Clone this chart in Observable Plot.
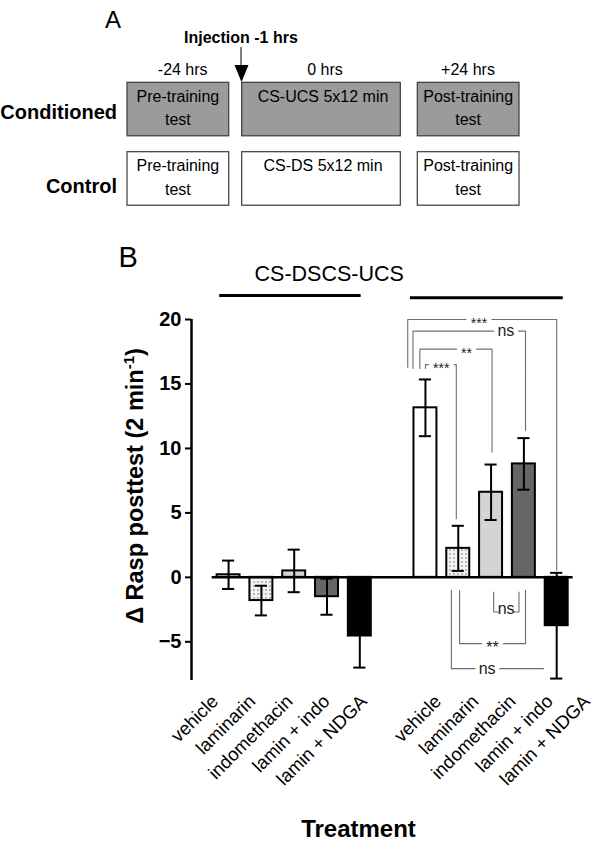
<!DOCTYPE html>
<html><head><meta charset="utf-8">
<script src="https://cdn.jsdelivr.net/npm/d3@7"></script>
<script src="https://cdn.jsdelivr.net/npm/@observablehq/plot@0.6"></script>
<style>
body{margin:0;background:#fff;}
#wrap{width:600px;height:844px;position:relative;background:#fff;}
svg{display:block;}
</style></head><body><div id="wrap"></div>
<script>
const FONT = '"Liberation Sans", Arial, Helvetica, sans-serif';

// ---------- Panel A (protocol) ----------
const phaseLabels = ["-24 hrs", "0 hrs", "+24 hrs"];
const rowLabels = ["Conditioned", "Control"];
const conditionedBoxes = [["Pre-training", "test"], ["CS-UCS 5x12 min"], ["Post-training", "test"]];
const controlBoxes = [["Pre-training", "test"], ["CS-DS 5x12 min"], ["Post-training", "test"]];
const injectionLabel = "Injection -1 hrs";

// ---------- Panel B (data) ----------
const treatments = ["vehicle", "laminarin", "indomethacin", "lamin + indo", "lamin + NDGA"];
const groups = ["CS-DS", "CS-UCS"];
const csDsMean = [0.2, -1.8, 0.5, -1.5, -4.55];
const csDsSem = [1.1, 1.15, 1.65, 1.4, 2.45];
const csUcsMean = [13.15, 2.25, 6.6, 8.8, -3.75];
const csUcsSem = [2.2, 1.75, 2.15, 2.0, 4.1];
const yTicks = [-5, 0, 5, 10, 15, 20];
const sigTopLabels = ["***", "ns", "**", "***"];
const sigBottomLabels = ["ns", "**", "ns"];

// ---------- Panel A drawing ----------
const wrap = d3.select("#wrap");
const A = wrap.append("svg").attr("width", 600).attr("height", 220)
  .attr("font-family", FONT).style("background", "#fff");
A.append("text").attr("x", 105).attr("y", 28).attr("font-size", 24).text("A");
A.append("text").attr("x", 184).attr("y", 43).attr("font-size", 16).attr("font-weight", "bold").text(injectionLabel);
A.append("line").attr("x1", 241).attr("x2", 241).attr("y1", 47).attr("y2", 66).attr("stroke", "#000").attr("stroke-width", 1);
A.append("path").attr("d", "M234.5,65 L248.5,65 L241.5,82 Z").attr("fill", "#000");
const colX = [[127, 228.7], [241.7, 400.3], [417.3, 519]];
const phaseCx = [182.7, 325, 468];
const rowTop = [82.3, 151.7];
const rowH = 53.5;
const rowBase = [119, 193];
phaseLabels.forEach((p, i) => A.append("text").attr("x", phaseCx[i]).attr("y", 75)
  .attr("text-anchor", "middle").attr("font-size", 16).text(p));
[conditionedBoxes, controlBoxes].forEach((boxes, r) => {
  A.append("text").attr("x", 117).attr("y", rowBase[r]).attr("text-anchor", "end")
    .attr("font-size", 20).attr("font-weight", "bold").text(rowLabels[r]);
  boxes.forEach((lines, c) => {
    A.append("rect").attr("x", colX[c][0]).attr("y", rowTop[r])
      .attr("width", colX[c][1] - colX[c][0]).attr("height", rowH)
      .attr("fill", r === 0 ? "#9b9b9b" : "#fff").attr("stroke", "#3a3a3a").attr("stroke-width", 1.2);
    lines.forEach((ln, k) => A.append("text")
      .attr("x", (colX[c][0] + colX[c][1]) / 2 + (c === 1 ? 2 : 0))
      .attr("y", rowTop[r] + 19.4 + k * 23.6)
      .attr("text-anchor", "middle").attr("font-size", 16).text(ln));
  });
});

// ---------- Panel B drawing ----------
const fills = ["#ffffff", "url(#dots)", "#d4d4d4", "#666666", "#000000"];
const bars = [];
groups.forEach((g, gi) => treatments.forEach((t, ti) => bars.push({
  group: g, treatment: t, slot: gi * 6 + ti,
  mean: (gi ? csUcsMean : csDsMean)[ti],
  sem: (gi ? csUcsSem : csDsSem)[ti],
  fill: fills[ti]
})));

const half = 0.35, capHalf = 0.185;
const xMin = -1.13;

// significance brackets (vehicle CS-UCS = slot 6)
const topBr = [
  {label: sigTopLabels[0], pts: [[5.46, 16.3], [5.46, 20.0], [10, 20.0], [10, 0.55]], tx: 7.63, ty: 20.0, fs: 14},
  {label: sigTopLabels[1], pts: [[5.62, 16.2], [5.62, 19.1], [9.05, 19.1], [9.05, 11.4]], tx: 8.45, ty: 19.1, fs: 16},
  {label: sigTopLabels[2], pts: [[5.83, 16.2], [5.83, 17.7], [8.03, 17.7], [8.03, 9.7]], tx: 7.25, ty: 17.7, fs: 14},
  {label: sigTopLabels[3], pts: [[6.0, 16.2], [6.0, 16.5], [6.94, 16.5], [6.94, 4.55]], tx: 6.48, ty: 16.5, fs: 14}
];
const botBr = [
  {label: sigBottomLabels[0], pts: [[8.23, -2.69], [8.08, -2.69], [8.08, -1.14]], pts2: [[8.69, -2.69], [8.85, -2.69], [8.85, -1.14]], tx: 8.46, ty: -2.45, fs: 16, halo: false},
  {label: sigBottomLabels[1], pts: [[7.04, -1.0], [7.04, -5.14], [9.05, -5.14], [9.05, -1.0]], tx: 8.04, ty: -5.14, fs: 16, halo: true, bold: true},
  {label: sigBottomLabels[2], pts: [[6.79, -1.0], [6.79, -7.08], [9.6, -7.08]], tx: 7.88, ty: -7.08, fs: 16, halo: true}
];
const brPts = [];
[...topBr, ...botBr].forEach((b, i) => {
  b.pts.forEach(([x, y]) => brPts.push({id: "a" + i, x, y}));
  if (b.pts2) b.pts2.forEach(([x, y]) => brPts.push({id: "b" + i, x, y}));
});
const starTexts = [...topBr, ...botBr].filter(b => b.label.includes("*"));
const nsTexts = [...topBr, ...botBr].filter(b => !b.label.includes("*"));

const groupLines = [
  {group: groups[0], from: -0.27, to: 4.04, level: 21.86},
  {group: groups[1], from: 5.54, to: 10.2, level: 21.68}
];

const chart = Plot.plot({
  width: 600, height: 624,
  marginTop: 99, marginBottom: 164, marginLeft: 191, marginRight: 27.4,
  x: {domain: [xMin, 10.5], axis: null},
  y: {domain: [-8, 20], axis: null},
  color: {type: "identity"},
  style: {fontFamily: FONT, color: "#000", background: "#fff", overflow: "visible"},
  marks: [
    Plot.rectY(bars, {x1: d => d.slot - half, x2: d => d.slot + half, y1: 0, y2: "mean", fill: "fill", stroke: "#000", strokeWidth: 2}),
    Plot.ruleY([0], {x1: -0.5, x2: 10.5, strokeWidth: 2.5}),
    Plot.ruleX(bars, {x: "slot", y1: d => d.mean - d.sem, y2: d => d.mean + d.sem, strokeWidth: 2}),
    Plot.ruleY(bars, {y: d => d.mean + d.sem, x1: d => d.slot - capHalf, x2: d => d.slot + capHalf, strokeWidth: 2}),
    Plot.ruleY(bars, {y: d => d.mean - d.sem, x1: d => d.slot - capHalf, x2: d => d.slot + capHalf, strokeWidth: 2}),
    Plot.ruleX([xMin], {y1: -8, y2: 20, strokeWidth: 2.5}),
    Plot.axisY({ticks: yTicks, tickSize: 6, tickPadding: 4, fontSize: 20, fontWeight: "bold", strokeWidth: 2, label: null}),
    // brackets
    Plot.line(brPts, {x: "x", y: "y", z: "id", stroke: "#6e6e6e", strokeWidth: 1.1}),
    Plot.text(starTexts, {x: "tx", y: "ty", text: "label", fontSize: d => d.fs, fontWeight: d => d.bold ? "bold" : "normal", dy: 4, fill: "#222", stroke: "#fff", strokeWidth: 9, paintOrder: "stroke"}),
    Plot.text(nsTexts.filter(d => d.halo !== false), {x: "tx", y: "ty", text: "label", fontSize: 16, fill: "#222", stroke: "#fff", strokeWidth: 9, paintOrder: "stroke"}),
    Plot.text(nsTexts.filter(d => d.halo === false), {x: "tx", y: "ty", text: "label", fontSize: 16, fill: "#222"}),
    // group header
    Plot.ruleY(groupLines, {y: "level", x1: "from", x2: "to", strokeWidth: 3}),
    Plot.text([groups[0]], {x: 2.83, y: 23.02, text: d => d, textAnchor: "end", lineAnchor: "bottom", fontSize: 21.5}),
    Plot.text([groups[1]], {x: 2.83, y: 23.02, text: d => d, textAnchor: "start", lineAnchor: "bottom", fontSize: 21.5}),
    // x labels
    Plot.text(bars, {x: d => d.slot * 1.133 - 0.19, frameAnchor: "bottom", text: "treatment", rotate: -45, textAnchor: "end", fontSize: 18.5, dx: -3, dy: 22}),
    // titles
    Plot.text(["Treatment"], {frameAnchor: "bottom", text: d => d, lineAnchor: "bottom", fontSize: 24, fontWeight: "bold", dx: -23.8, dy: 156}),
    Plot.text(["B"], {frameAnchor: "top-left", text: d => d, lineAnchor: "bottom", textAnchor: "start", fontSize: 29, dx: -73, dy: -52.3})
  ]
});

// dotted pattern for laminarin bars
const svgB = d3.select(chart);
const defs = svgB.insert("defs", ":first-child");
const pat = defs.append("pattern").attr("id", "dots").attr("width", 4).attr("height", 4).attr("patternUnits", "userSpaceOnUse");
pat.append("rect").attr("width", 4).attr("height", 4).attr("fill", "#f3f3f3");
pat.append("circle").attr("cx", 2).attr("cy", 2).attr("r", 0.65).attr("fill", "#555");

// y-axis title with superscript
const yt = svgB.append("text").attr("transform", "translate(143,266) rotate(-90)")
  .attr("text-anchor", "middle").attr("font-size", 23.5).attr("font-weight", "bold").attr("font-family", FONT);
yt.append("tspan").text("\u0394 Rasp posttest (2 min");
yt.append("tspan").attr("font-size", 15).attr("dy", -9).text("-1");
yt.append("tspan").attr("dy", 9).text(")");

wrap.node().appendChild(chart);
</script></body></html>
